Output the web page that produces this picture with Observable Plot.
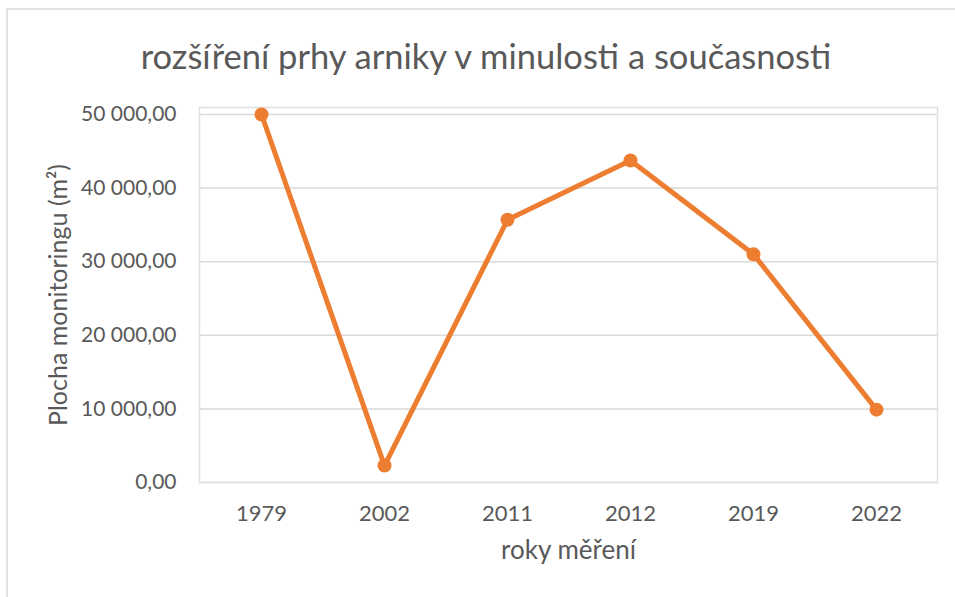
<!DOCTYPE html>
<html>
<head>
<meta charset="utf-8">
<script src="https://cdn.jsdelivr.net/npm/d3@7"></script>
<script src="https://cdn.jsdelivr.net/npm/@observablehq/plot@0.6"></script>
<style>
  html, body { margin: 0; padding: 0; background: #fff; }
  #wrap { position: relative; width: 955px; height: 597px; overflow: hidden; background: #fff; }
  #border { position: absolute; left: 6px; top: 8px; width: 960px; height: 600px; border: 2px solid #e3e3e3; box-sizing: border-box; }
  #title { position: absolute; left: 0; top: 0; width: 955px; height: 100px; text-align: center;
           font-family: Lato, sans-serif; font-size: 34.5px; color: #595959; line-height: 112px; padding-left: 17px; box-sizing: border-box; }
  #chart { position: absolute; left: 0; top: 100px; }
</style>
</head>
<body>
<div id="wrap">
  <div id="border"></div>
  <div id="title"></div>
  <div id="chart"></div>
</div>
<script>
const years = ["1979", "2002", "2011", "2012", "2019", "2022"];
const areas = [50000, 2300, 35700, 43750, 31000, 9900];
const yTicks = [0, 10000, 20000, 30000, 40000, 50000];
const chartTitle = "rozšíření prhy arniky v minulosti a současnosti";
const xLabel = "roky měření";
const yLabel = "Plocha monitoringu (m²)";

const data = years.map((y, i) => ({year: y, area: areas[i]}));
const fmt = d3.formatLocale({decimal: ",", thousands: "\u00a0", grouping: [3], currency: ["", ""]}).format(",.2f");

document.getElementById("title").textContent = chartTitle;

const plot = Plot.plot({
  width: 955,
  height: 497,
  marginTop: 7,
  marginBottom: 115,
  marginLeft: 199,
  marginRight: 18,
  style: {fontFamily: "Lato, sans-serif", fontSize: "21px", color: "#595959", background: "transparent"},
  x: {type: "point", domain: years, padding: 0.5, label: null},
  y: {domain: [0, 50000], range: [382, 14], label: null},
  marks: [
    Plot.gridY(yTicks, {stroke: "#d9d9d9", strokeOpacity: 1, strokeWidth: 1.5}),
    Plot.frame({stroke: "#e0e0e0", strokeWidth: 1.5}),
    Plot.axisY(yTicks, {tickFormat: fmt, tickSize: 0, tickPadding: 23, fontSize: 21, fill: "#595959"}),
    Plot.axisX(years, {tickSize: 0, tickPadding: 23, fontSize: 22, fill: "#595959", label: null}),
    Plot.line(data, {x: "year", y: "area", stroke: "#ED7D31", strokeWidth: 5, strokeLinejoin: "round", curve: "linear"}),
    Plot.dot(data, {x: "year", y: "area", r: 7, fill: "#ED7D31", stroke: null}),
    Plot.text([xLabel], {frameAnchor: "bottom", dy: 76, fontSize: 26, fill: "#595959", text: d => d}),
    Plot.text([yLabel], {frameAnchor: "left", dx: -141, dy: 0, rotate: -90, textAnchor: "middle", fontSize: 25, fill: "#595959", text: d => d})
  ]
});
document.getElementById("chart").appendChild(plot);
</script>
</body>
</html>
